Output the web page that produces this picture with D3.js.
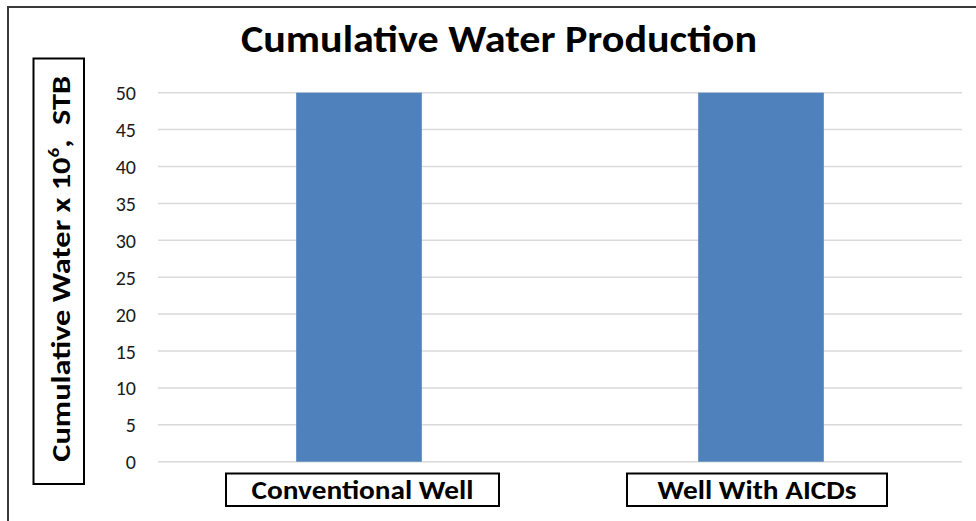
<!DOCTYPE html>
<html>
<head>
<meta charset="utf-8">
<script src="https://cdn.jsdelivr.net/npm/d3@7"></script>
<style>
  html, body { margin: 0; padding: 0; background: #ffffff; }
  svg { display: block; }
  text { font-family: Carlito, Lato, "Open Sans", sans-serif; }
</style>
</head>
<body>
<svg id="chart" width="976" height="521"></svg>
<script>
// ---- data ----
const categories = ["Conventional Well", "Well With AICDs"];
const values = [50, 50];
const yTicks = [0, 5, 10, 15, 20, 25, 30, 35, 40, 45, 50];
const titleText = "Cumulative Water Production";
const yLabelParts = ["Cumulative Water x 10", "6", ",\u00a0\u00a0STB"];

// ---- layout ----
const W = 976, H = 521;
const plot = { left: 158, right: 962, top: 92.7, bottom: 461.7 };
const svg = d3.select("#chart");

svg.append("rect").attr("x", 0).attr("y", 0).attr("width", W).attr("height", H).attr("fill", "#ffffff");
// outer frame (only left & top visible)
svg.append("rect")
  .attr("x", 8).attr("y", 7).attr("width", 1100).attr("height", 700)
  .attr("fill", "none").attr("stroke", "#3a3a3a").attr("stroke-width", 2);

const x = d3.scaleBand().domain(categories)
  .range([plot.left, plot.right]).paddingInner(0.6875).paddingOuter(0.34375);
const y = d3.scaleLinear().domain([0, 50]).range([plot.bottom, plot.top]);

// gridlines
svg.append("g").selectAll("line").data(yTicks).join("line")
  .attr("x1", plot.left).attr("x2", plot.right)
  .attr("y1", d => y(d)).attr("y2", d => y(d))
  .attr("stroke", "#d9d9d9").attr("stroke-width", 1.5);

// y axis tick labels
const yAxis = d3.axisLeft(y).tickValues(yTicks).tickSize(0).tickPadding(0);
const gy = svg.append("g").attr("transform", "translate(136,0)").call(yAxis);
gy.select(".domain").remove();
gy.selectAll("text").attr("font-size", 20).attr("fill", "#1a1a1a")
  .attr("font-family", "Carlito, Lato, sans-serif").attr("dy", "0.35em");

// bars
svg.append("g").selectAll("rect").data(categories).join("rect")
  .attr("x", d => x(d)).attr("width", x.bandwidth())
  .attr("y", (d, i) => y(values[i])).attr("height", (d, i) => y(0) - y(values[i]))
  .attr("fill", "#4f81bd");

// title
svg.append("text").attr("x", 499).attr("y", 51.7).attr("text-anchor", "middle")
  .attr("font-size", 38).attr("font-weight", "bold").attr("fill", "#000")
  .attr("textLength", 516).attr("lengthAdjust", "spacingAndGlyphs")
  .text(titleText);

// category labels with boxes
const catTextWidths = [222, 199];
const catBoxPad = [25.5, 30.5];
const cg = svg.append("g");
categories.forEach((c, i) => {
  const cx = x(c) + x.bandwidth() / 2 + (i === 0 ? 3.5 : -4);
  const bw = catTextWidths[i] + 2 * catBoxPad[i];
  cg.append("rect").attr("x", cx - bw / 2).attr("y", 473.5)
    .attr("width", bw).attr("height", 32.5)
    .attr("fill", "#fff").attr("stroke", "#000").attr("stroke-width", 2);
  cg.append("text").attr("x", cx).attr("y", 499.3).attr("text-anchor", "middle")
    .attr("font-size", 26).attr("font-weight", "bold").attr("fill", "#000")
    .attr("textLength", catTextWidths[i]).attr("lengthAdjust", "spacingAndGlyphs")
    .text(c);
});

// y axis title box
svg.append("rect").attr("x", 33.5).attr("y", 58.5).attr("width", 50.5).attr("height", 425.5)
  .attr("fill", "#fff").attr("stroke", "#000").attr("stroke-width", 2);
const yl = svg.append("g").attr("transform", "translate(70,268.7) rotate(-90)");
const ylInner = yl.append("g");
const yt = ylInner.append("text").attr("x", 0).attr("y", 0)
  .attr("font-size", 27).attr("font-weight", "bold").attr("fill", "#000")
  .attr("text-anchor", "middle");
yt.append("tspan").text(yLabelParts[0]);
yt.append("tspan").attr("font-size", 16).attr("dy", -11).text(yLabelParts[1]);
yt.append("tspan").attr("dy", 11).text(yLabelParts[2]);
const bb = yt.node().getBBox();
const sx = 386 / bb.width;
ylInner.attr("transform", `scale(${sx},1)`);
</script>
</body>
</html>
